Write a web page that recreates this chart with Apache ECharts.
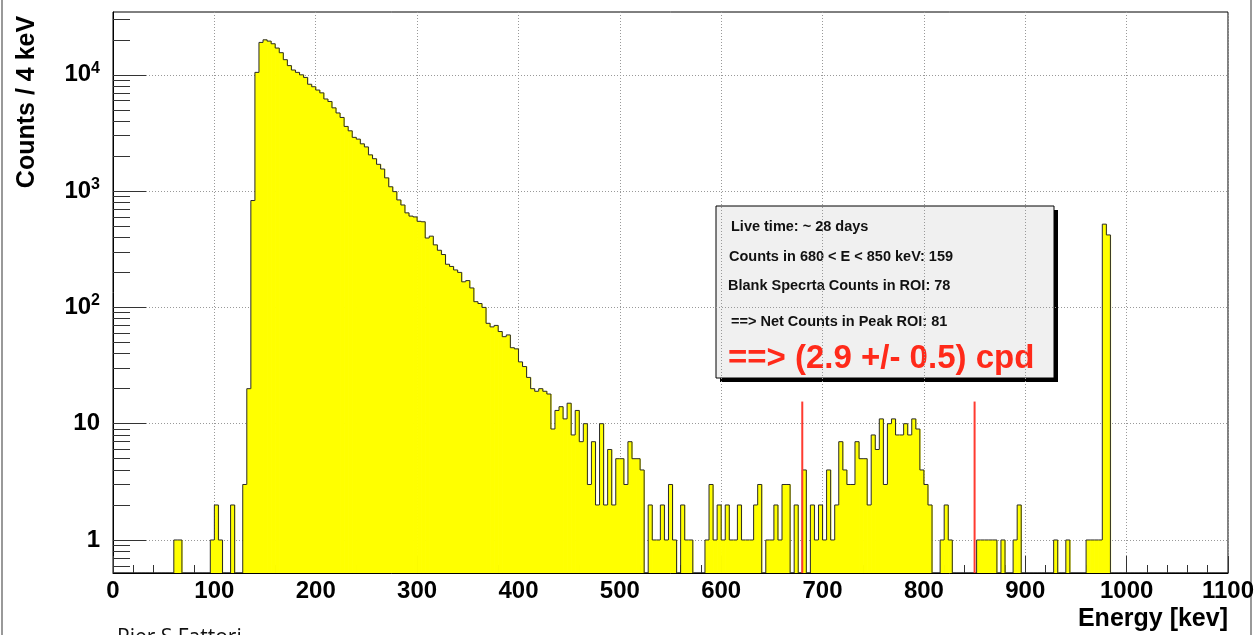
<!DOCTYPE html>
<html><head><meta charset="utf-8">
<script src="https://cdn.jsdelivr.net/npm/echarts@6/dist/echarts.min.js"></script>
<style>html,body{margin:0;padding:0;background:#fff}#c{width:1259px;height:635px}</style>
</head><body><div id="c"></div>
<script>
// ---- data ----
const binWidth = 4; // keV per bin, bins start at 0 keV
const counts = [
  0,0,0,0,0, 0,0,0,0,0, 0,0,0,0,0, 1,1,0,0,0, 0,0,0,0,1,
  2,1,0,0,2, 0,0,3,20,830, 10500,19000,20000,19500,18500, 17000,15500,13500,12000,11000, 10500,10000,9500,8300,7900,
  7400,7000,6200,5900,5200, 4700,4300,3600,3300,2900, 2800,2550,2400,2050,1900, 1700,1550,1300,1090,990, 840,760,650,610,600,
  550,545,395,410,345, 310,285,235,225,210, 200,166,170,147,112, 108,100,73,68,70, 62,56,58,45,44,
  34,31,25,20,19, 20,19,18,9,13, 14,11,15,8,13, 7,10,3,7,2, 10,2,6,2,5,
  5,3,7,5,5, 4,0,2,1,1, 2,1,3,1,0, 2,1,1,0,0, 0,1,3,1,2,
  1,2,1,1,2, 1,1,1,2,3, 0,1,1,2,1, 3,3,0,2,0, 4,0,2,1,2,
  1,4,1,2,7, 4,3,3,7,5, 5,2,8,6,11, 3,10,11,8,8, 10,8,11,9,4,
  3,2,0,0,1, 2,1,0,0,0, 0,0,0,1,1, 1,1,1,0,1, 0,0,1,2,0,
  0,0,0,0,0, 0,0,1,0,0, 1,0,0,0,0, 1,1,1,1,520, 420,0,0,0,0,
  0,0,0,0,0, 0,0,0,0,0, 0,0,0,0,0, 0,0,0,0,0, 0,0,0,0,0
];
const xRange = [0, 1100];
const xTickStep = 100;
const yRange = [0.52, 34700];
const yMajor = [1, 10, 100, 1000, 10000];
const yMinor = [0.6,0.7,0.8,0.9, 2,3,4,5,6,7,8,9, 20,30,40,50,60,70,80,90,
                200,300,400,500,600,700,800,900, 2000,3000,4000,5000,6000,7000,8000,9000, 20000,30000];
const roiEdges = [680, 850];   // keV
const roiLineTop = 15.5;       // counts
const xTitle = 'Energy [kev]';
const yTitle = 'Counts / 4 keV';
const boxLines = [
  'Live time: ~ 28 days',
  'Counts in 680 < E < 850 keV: 159',
  'Blank Specrta Counts in ROI: 78',
  '==> Net Counts in Peak ROI: 81'
];
const boxResult = '==> (2.9 +/- 0.5) cpd';
const author = 'Pier S Fattori';

// ---- chart ----
const FONT = '"Liberation Sans", Arial, Helvetica, sans-serif';
const histData = counts.map((c, i) => [i * binWidth, (i + 1) * binWidth, c, i > 0 ? counts[i - 1] : 0]);

const chart = echarts.init(document.getElementById('c'), null, {renderer: 'canvas'});

function renderBin(params, api) {
  const x0 = api.value(0), x1 = api.value(1), c = api.value(2), prev = api.value(3);
  const cs = params.coordSys;
  const bottom = cs.y + cs.height;
  const yOf = v => v > 0 ? Math.max(cs.y, api.coord([x0, v])[1]) : bottom;
  const px0 = api.coord([x0, 1])[0], px1 = api.coord([x1, 1])[0];
  const yt = yOf(c), yp = yOf(prev);
  const children = [];
  if (c > 0) children.push({type: 'rect', shape: {x: px0, y: yt, width: px1 - px0 + 0.7, height: bottom - yt},
                            style: {fill: '#ffff00'}});
  children.push({type: 'polyline', shape: {points: [[px0, yp], [px0, yt], [px1, yt]]},
                 style: {stroke: '#2a2a2a', lineWidth: 1, fill: null}});
  return {type: 'group', children};
}

const rich = {
  n: {fontSize: 24, fontWeight: 'bold', fontFamily: FONT, color: '#000'},
  e: {fontSize: 16, fontWeight: 'bold', fontFamily: FONT, color: '#000', padding: [0, 0, 13, 0]}
};

const option = {
  backgroundColor: '#fff',
  animation: false,
  grid: {left: 113, top: 12, width: 1115, height: 561, show: true, borderColor: '#000', borderWidth: 1, containLabel: false},
  xAxis: {
    type: 'value', min: xRange[0], max: xRange[1], interval: xTickStep,
    axisLine: {lineStyle: {color: '#000', width: 1}},
    axisTick: {inside: true, length: 17, lineStyle: {color: '#333'}},
    minorTick: {show: true, splitNumber: 5, length: 8, lineStyle: {color: '#333'}},
    splitLine: {show: true, lineStyle: {color: '#999', type: [1, 2], width: 1}},
    axisLabel: {margin: 6, fontSize: 24, fontWeight: 'bold', fontFamily: FONT, color: '#000',
                formatter: v => String(v)}
  },
  yAxis: [{
    type: 'log', logBase: 10, min: yRange[0], max: yRange[1],
    axisLine: {lineStyle: {color: '#000', width: 1}},
    axisTick: {inside: true, length: 33, customValues: yMajor, lineStyle: {color: '#333'}},
    splitLine: {show: true, lineStyle: {color: '#999', type: [1, 2], width: 1}},
    axisLabel: {customValues: yMajor, margin: 13, rich,
      formatter: v => v < 100 ? '{n|' + Math.round(v) + '}' : '{n|10}{e|' + Math.round(Math.log10(v)) + '}'}
  }, {
    type: 'log', logBase: 10, min: yRange[0], max: yRange[1], position: 'left',
    axisLine: {show: false},
    axisTick: {inside: true, length: 17, customValues: yMinor, lineStyle: {color: '#333'}},
    splitLine: {show: false},
    axisLabel: {show: false}
  }],
  series: [{
    type: 'custom', renderItem: renderBin, data: histData, clip: true,
    encode: {x: [0, 1], y: 2}, z: 3
  }].concat(roiEdges.map(e => ({
    type: 'line', data: [[e, yRange[0]], [e, roiLineTop]], symbol: 'none', z: 4,
    lineStyle: {color: '#ff3b30', width: 2}
  }))),
  graphic: [
    {type: 'line', shape: {x1: 2, y1: 0, x2: 2, y2: 635}, style: {stroke: '#999', lineWidth: 2}},
    {type: 'line', shape: {x1: 1251, y1: 0, x2: 1251, y2: 635}, style: {stroke: '#999', lineWidth: 2}},
    {type: 'text', x: 27, y: 102, rotation: Math.PI / 2, z: 10,
     style: {text: yTitle, fontSize: 25, fontWeight: 'bold', fontFamily: FONT, fill: '#000', align: 'center', verticalAlign: 'middle'}},
    {type: 'text', x: 1228, y: 619, z: 10,
     style: {text: xTitle, fontSize: 25, fontWeight: 'bold', fontFamily: FONT, fill: '#000', align: 'right', verticalAlign: 'middle'}},
    {type: 'text', x: 117, y: 628, z: 10,
     style: {text: author, fontSize: 21, fontFamily: '"Open Sans", Lato, sans-serif', fill: '#111', align: 'left', verticalAlign: 'top'}},
    {type: 'group', z: 20, children: [
      {type: 'rect', shape: {x: 720, y: 210, width: 338, height: 172}, style: {fill: '#000'}},
      {type: 'rect', shape: {x: 716, y: 206, width: 338, height: 172}, style: {fill: '#f0f0f0', stroke: '#000', lineWidth: 1}},
      {type: 'text', x: 731, y: 227, style: {text: boxLines[0], fontSize: 14.5, fontWeight: 'bold', fontFamily: FONT, fill: '#111', verticalAlign: 'middle'}},
      {type: 'text', x: 729, y: 257, style: {text: boxLines[1], fontSize: 14.5, fontWeight: 'bold', fontFamily: FONT, fill: '#111', verticalAlign: 'middle'}},
      {type: 'text', x: 728, y: 286, style: {text: boxLines[2], fontSize: 14.5, fontWeight: 'bold', fontFamily: FONT, fill: '#111', verticalAlign: 'middle'}},
      {type: 'text', x: 731, y: 322, style: {text: boxLines[3], fontSize: 14.5, fontWeight: 'bold', fontFamily: FONT, fill: '#111', verticalAlign: 'middle'}},
      {type: 'text', x: 728, y: 359, style: {text: boxResult, fontSize: 33, fontWeight: 'bold', fontFamily: FONT, fill: '#ff2a1a', verticalAlign: 'middle'}}
    ]}
  ]
};
chart.setOption(option);
</script>
</body></html>
